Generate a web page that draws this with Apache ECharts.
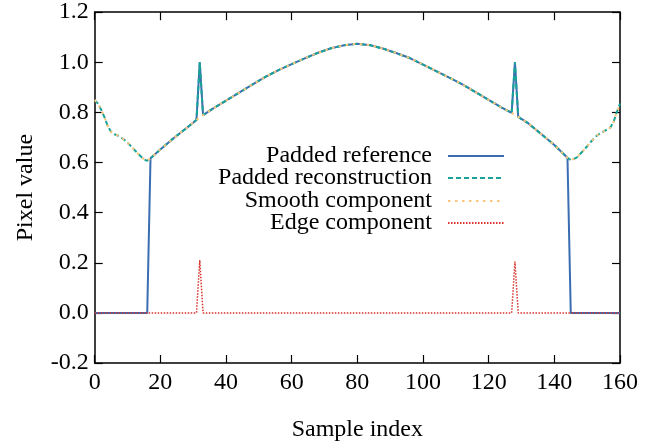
<!DOCTYPE html>
<html>
<head>
<meta charset="utf-8">
<script src="https://cdn.jsdelivr.net/npm/echarts@6/dist/echarts.min.js"></script>
<style>
html,body{margin:0;padding:0;background:#fff;}
#chart{width:666px;height:447px;}
</style>
</head>
<body>
<div id="chart"></div>
<script>
// Sample positions (x) shared by all series
const sampleIndex = [0,1,2,3,4,5,6,7,8,9,10,11,12,13,14,15,16,17,20,24,28,31,32,33,36,40,44,48,52,56,60,64,68,72,76,80,84,88,92,96,100,104,108,112,116,120,124,127,128,129,132,136,140,144,145,146,147,148,149,150,151,152,153,154,155,156,157,158,159,160];

const paddedReference = [0,0,0,0,0,0,0,0,0,0,0,0,0,0,0,0,0,
  0.617,0.652,0.697,0.738,0.770,1.0,0.789,0.815,0.847,0.879,0.911,0.942,0.969,0.993,1.016,1.038,1.056,1.068,1.074,1.068,1.054,1.036,1.017,0.991,0.965,0.939,0.912,0.881,0.850,0.819,0.798,1.0,0.782,0.757,0.714,0.670,0.619,
  0,0,0,0,0,0,0,0,0,0,0,0,0,0,0,0];

const paddedReconstruction = [0.85,0.835,0.81,0.78,0.745,0.722,0.713,0.708,0.70,0.691,0.679,0.666,0.652,0.638,0.625,0.613,0.607,
  0.617,0.652,0.697,0.738,0.770,1.0,0.789,0.815,0.847,0.879,0.911,0.942,0.969,0.993,1.016,1.038,1.056,1.068,1.074,1.068,1.054,1.036,1.017,0.991,0.965,0.939,0.912,0.881,0.850,0.819,0.798,1.0,0.782,0.757,0.714,0.670,0.619,
  0.61,0.615,0.622,0.636,0.65,0.665,0.681,0.695,0.708,0.717,0.724,0.731,0.739,0.761,0.80,0.835];

const smoothComponent = [0.85,0.835,0.81,0.78,0.745,0.722,0.713,0.708,0.70,0.691,0.679,0.666,0.652,0.638,0.625,0.613,0.607,
  0.617,0.652,0.697,0.738,0.770,0.780,0.789,0.815,0.847,0.879,0.911,0.942,0.969,0.993,1.016,1.038,1.056,1.068,1.074,1.068,1.054,1.036,1.017,0.991,0.965,0.939,0.912,0.881,0.850,0.819,0.798,0.790,0.782,0.757,0.714,0.670,0.619,
  0.61,0.615,0.622,0.636,0.65,0.665,0.681,0.695,0.708,0.717,0.724,0.731,0.739,0.761,0.80,0.835];

const edgeComponent = [0,0,0,0,0,0,0,0,0,0,0,0,0,0,0,0,0,
  0,0,0,0,0,0.21,0,0,0,0,0,0,0,0,0,0,0,0,0,0,0,0,0,0,0,0,0,0,0,0,0,0.205,0,0,0,0,0,
  0,0,0,0,0,0,0,0,0,0,0,0,0,0,0,0];

const seriesNames = ['Padded reference','Padded reconstruction','Smooth component','Edge component'];
const xTicks = {min:0, max:160, interval:20};
const yTicks = {min:-0.2, max:1.2, interval:0.2};

const FONT = "'Liberation Serif','Times New Roman',serif";
const FS = 24;

function pairs(ys){ return sampleIndex.map((x,i)=>[x, ys[i]]); }

const chart = echarts.init(document.getElementById('chart'), null, {renderer:'canvas'});

const axisLine = {show:true, onZero:false, lineStyle:{color:'#000', width:1.5}};
const tick = {show:true, inside:true, length:8, lineStyle:{color:'#000', width:1.2}};

const legendTops = [144, 166, 189, 211];
const legends = seriesNames.map((n,i)=>({
  data:[n], orient:'vertical', right:161, top:legendTops[i], align:'right',
  padding:0, itemWidth:56, itemHeight:14, selectedMode:false,
  itemStyle:{opacity:0},
  textStyle:{fontFamily:FONT, fontSize:FS, color:'#000', padding:[0,11,0,0]}
}));

chart.setOption({
  animation:false,
  backgroundColor:'#fff',
  grid:{left:94.7, right:46, top:12.2, bottom:81.3},
  legend: legends,
  xAxis:[
    {type:'value', min:xTicks.min, max:xTicks.max, interval:xTicks.interval, position:'bottom',
     name:'Sample index', nameLocation:'middle', nameGap:55,
     nameTextStyle:{fontFamily:FONT, fontSize:FS, color:'#000'},
     axisLine:axisLine, axisTick:tick, splitLine:{show:false},
     axisLabel:{fontFamily:FONT, fontSize:FS, color:'#000', margin:8}},
    {type:'value', min:xTicks.min, max:xTicks.max, interval:xTicks.interval, position:'top',
     axisLine:axisLine, axisTick:tick, splitLine:{show:false}, axisLabel:{show:false}}
  ],
  yAxis:[
    {type:'value', min:yTicks.min, max:yTicks.max, interval:yTicks.interval, position:'left',
     name:'Pixel value', nameLocation:'middle', nameGap:57,
     nameTextStyle:{fontFamily:FONT, fontSize:FS, color:'#000'},
     axisLine:axisLine, axisTick:tick, splitLine:{show:false},
     axisLabel:{fontFamily:FONT, fontSize:FS, color:'#000', margin:6,
       formatter:v=>Number(v).toFixed(1)}},
    {type:'value', min:yTicks.min, max:yTicks.max, interval:yTicks.interval, position:'right',
     axisLine:axisLine, axisTick:tick, splitLine:{show:false}, axisLabel:{show:false}}
  ],
  series:[
    {name:seriesNames[0], type:'line', data:pairs(paddedReference), symbol:'none',
     lineStyle:{color:'#3b6db3', width:2}, itemStyle:{color:'#3b6db3'}},
    {name:seriesNames[1], type:'line', data:pairs(paddedReconstruction), symbol:'none',
     lineStyle:{color:'#18a398', width:2, type:[5,3]}, itemStyle:{color:'#18a398'}},
    {name:seriesNames[2], type:'line', data:pairs(smoothComponent), symbol:'none',
     lineStyle:{color:'#fbc67c', width:2, type:[2.5,4.5]}, itemStyle:{color:'#fbc67c'}},
    {name:seriesNames[3], type:'line', data:pairs(edgeComponent), symbol:'none',
     lineStyle:{color:'#d8302a', width:1.5, type:[1.5,1.5]}, itemStyle:{color:'#d8302a'}}
  ]
});
</script>
</body>
</html>
